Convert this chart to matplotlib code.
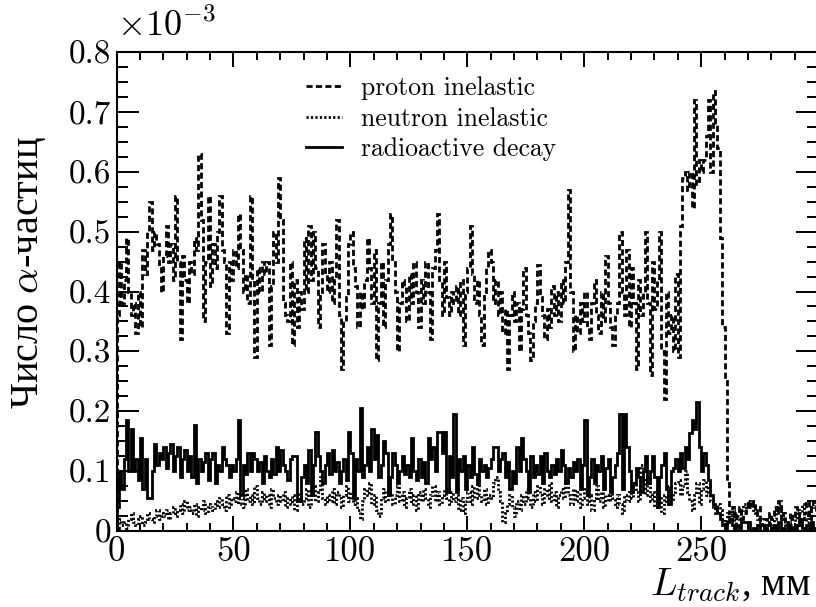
import numpy as np
import matplotlib
matplotlib.use("Agg")
import matplotlib.pyplot as plt
from matplotlib.ticker import MultipleLocator, FixedLocator, FuncFormatter

plt.rcParams['font.family'] = ['cmr10']
plt.rcParams['mathtext.fontset'] = 'cm'
plt.rcParams['axes.unicode_minus'] = False

# bin edges in mm (1 mm bins), values in units of 1e-3
edges = np.arange(0, 301)

proton = [
    0.36, 0.45, 0.38, 0.42, 0.49, 0.40, 0.36, 0.38, 0.33, 0.40,
    0.34, 0.47, 0.43, 0.50, 0.55, 0.47, 0.50, 0.48, 0.44, 0.40,
    0.46, 0.51, 0.45, 0.48, 0.42, 0.56, 0.45, 0.32, 0.46, 0.42,
    0.38, 0.45, 0.43, 0.49, 0.47, 0.63, 0.52, 0.35, 0.45, 0.56,
    0.41, 0.48, 0.44, 0.50, 0.56, 0.47, 0.45, 0.33, 0.45, 0.42,
    0.47, 0.44, 0.53, 0.47, 0.40, 0.43, 0.38, 0.56, 0.42, 0.29,
    0.44, 0.40, 0.45, 0.43, 0.45, 0.31, 0.41, 0.50, 0.45, 0.59,
    0.52, 0.38, 0.36, 0.35, 0.45, 0.31, 0.42, 0.34, 0.40, 0.37,
    0.49, 0.40, 0.51, 0.42, 0.50, 0.44, 0.34, 0.40, 0.48, 0.43,
    0.40, 0.45, 0.38, 0.42, 0.52, 0.36, 0.27, 0.35, 0.39, 0.48,
    0.50, 0.44, 0.41, 0.34, 0.40, 0.37, 0.42, 0.49, 0.44, 0.38,
    0.47, 0.285, 0.38, 0.45, 0.34, 0.42, 0.48, 0.53, 0.45, 0.40,
    0.30, 0.38, 0.42, 0.41, 0.35, 0.43, 0.38, 0.45, 0.40, 0.34,
    0.42, 0.38, 0.45, 0.40, 0.32, 0.44, 0.47, 0.53, 0.42, 0.36,
    0.45, 0.39, 0.36, 0.40, 0.38, 0.41, 0.36, 0.42, 0.31, 0.40,
    0.44, 0.51, 0.43, 0.38, 0.42, 0.36, 0.31, 0.40, 0.44, 0.47,
    0.45, 0.38, 0.42, 0.36, 0.40, 0.33, 0.37, 0.27, 0.36, 0.40,
    0.35, 0.38, 0.30, 0.37, 0.44, 0.36, 0.33, 0.285, 0.35, 0.38,
    0.445, 0.39, 0.36, 0.32, 0.37, 0.34, 0.41, 0.36, 0.40, 0.35,
    0.42, 0.38, 0.45, 0.57, 0.40, 0.30, 0.36, 0.33, 0.38, 0.35,
    0.40, 0.34, 0.32, 0.38, 0.42, 0.36, 0.33, 0.40, 0.35, 0.46,
    0.38, 0.34, 0.31, 0.36, 0.38, 0.50, 0.40, 0.36, 0.47, 0.34,
    0.44, 0.38, 0.27, 0.42, 0.36, 0.40, 0.50, 0.38, 0.26, 0.45,
    0.37, 0.42, 0.50, 0.30, 0.22, 0.40, 0.33, 0.36, 0.30, 0.43,
    0.29, 0.51, 0.59, 0.60, 0.57, 0.60, 0.54, 0.72, 0.58, 0.62,
    0.60, 0.62, 0.66, 0.72, 0.60, 0.735, 0.68, 0.64, 0.49, 0.34,
    0.25, 0.08, 0.03, 0.04, 0.02, 0.03, 0.04, 0.02, 0.03, 0.04,
    0.05, 0.04, 0.05, 0.03, 0.04, 0.02, 0.01, 0.02, 0.01, 0.03,
    0.02, 0.04, 0.03, 0.05, 0.02, 0.03, 0.01, 0.02, 0.03, 0.02,
    0.04, 0.03, 0.01, 0.02, 0.03, 0.05, 0.02, 0.04, 0.05, 0.03,
]

neutron = [
    0.005, 0.02, 0.01, 0.015, 0.005, 0.02, 0.03, 0.015, 0.01, 0.02,
    0.025, 0.01, 0.015, 0.03, 0.02, 0.015, 0.025, 0.035, 0.02, 0.03,
    0.025, 0.035, 0.02, 0.03, 0.04, 0.025, 0.035, 0.045, 0.03, 0.05,
    0.035, 0.04, 0.03, 0.045, 0.025, 0.04, 0.035, 0.05, 0.03, 0.045,
    0.04, 0.035, 0.05, 0.04, 0.055, 0.045, 0.035, 0.06, 0.04, 0.055,
    0.05, 0.065, 0.045, 0.055, 0.04, 0.07, 0.05, 0.06, 0.045, 0.075,
    0.055, 0.045, 0.065, 0.05, 0.06, 0.04, 0.07, 0.055, 0.045, 0.06,
    0.05, 0.065, 0.04, 0.055, 0.045, 0.06, 0.035, 0.05, 0.065, 0.045,
    0.055, 0.07, 0.04, 0.06, 0.075, 0.05, 0.065, 0.09, 0.055, 0.045,
    0.06, 0.05, 0.07, 0.045, 0.065, 0.055, 0.04, 0.06, 0.075, 0.05,
    0.065, 0.045, 0.055, 0.035, 0.02, 0.05, 0.07, 0.06, 0.08, 0.045,
    0.06, 0.035, 0.025, 0.055, 0.07, 0.05, 0.09, 0.065, 0.045, 0.06,
    0.075, 0.05, 0.065, 0.04, 0.055, 0.07, 0.045, 0.06, 0.035, 0.065,
    0.05, 0.07, 0.055, 0.04, 0.06, 0.075, 0.05, 0.065, 0.045, 0.06,
    0.07, 0.055, 0.045, 0.065, 0.05, 0.06, 0.035, 0.055, 0.03, 0.05,
    0.065, 0.045, 0.075, 0.055, 0.09, 0.06, 0.05, 0.07, 0.045, 0.06,
    0.055, 0.08, 0.09, 0.065, 0.05, 0.015, 0.03, 0.045, 0.06, 0.04,
    0.025, 0.05, 0.035, 0.06, 0.045, 0.07, 0.055, 0.04, 0.065, 0.05,
    0.075, 0.06, 0.045, 0.07, 0.055, 0.08, 0.05, 0.065, 0.04, 0.06,
    0.07, 0.055, 0.085, 0.06, 0.045, 0.07, 0.05, 0.065, 0.04, 0.055,
    0.07, 0.045, 0.06, 0.035, 0.055, 0.075, 0.05, 0.065, 0.04, 0.06,
    0.05, 0.07, 0.055, 0.04, 0.06, 0.045, 0.03, 0.06, 0.05, 0.07,
    0.055, 0.08, 0.065, 0.05, 0.11, 0.085, 0.06, 0.09, 0.05, 0.065,
    0.04, 0.07, 0.055, 0.03, 0.06, 0.045, 0.075, 0.05, 0.065, 0.08,
    0.085, 0.06, 0.075, 0.10, 0.065, 0.05, 0.035, 0.06, 0.08, 0.045,
    0.07, 0.085, 0.06, 0.075, 0.05, 0.04, 0.03, 0.045, 0.035, 0.02,
    0.015, 0.03, 0.02, 0.035, 0.01, 0.025, 0.015, 0.035, 0.045, 0.04,
    0.05, 0.045, 0.035, 0.03, 0.02, 0.015, 0.01, 0.005, 0.01, 0.015,
    0.005, 0.02, 0.04, 0.045, 0.03, 0.02, 0.01, 0.015, 0.005, 0.01,
    0.02, 0.035, 0.03, 0.045, 0.02, 0.015, 0.03, 0.04, 0.045, 0.05,
]

decay = [
    0.04, 0.10, 0.07, 0.12, 0.185, 0.10, 0.17, 0.10, 0.12, 0.085,
    0.155, 0.07, 0.12, 0.055, 0.055, 0.10, 0.146, 0.11, 0.13, 0.12,
    0.14, 0.105, 0.13, 0.145, 0.10, 0.125, 0.14, 0.09, 0.12, 0.135,
    0.10, 0.125, 0.09, 0.177, 0.08, 0.12, 0.10, 0.115, 0.13, 0.085,
    0.12, 0.13, 0.08, 0.11, 0.10, 0.14, 0.12, 0.11, 0.09, 0.11,
    0.10, 0.12, 0.185, 0.06, 0.11, 0.095, 0.13, 0.10, 0.13, 0.12,
    0.10, 0.115, 0.08, 0.125, 0.10, 0.09, 0.12, 0.095, 0.14, 0.10,
    0.135, 0.11, 0.10, 0.085, 0.12, 0.125, 0.125, 0.05, 0.05, 0.09,
    0.11, 0.08, 0.135, 0.06, 0.11, 0.165, 0.125, 0.10, 0.08, 0.11,
    0.13, 0.095, 0.135, 0.10, 0.115, 0.08, 0.10, 0.12, 0.085, 0.165,
    0.13, 0.055, 0.12, 0.10, 0.205, 0.09, 0.11, 0.14, 0.10, 0.17,
    0.12, 0.16, 0.09, 0.11, 0.15, 0.13, 0.06, 0.09, 0.13, 0.11,
    0.08, 0.10, 0.125, 0.095, 0.11, 0.09, 0.155, 0.10, 0.085, 0.12,
    0.09, 0.115, 0.08, 0.155, 0.12, 0.14, 0.10, 0.165, 0.165, 0.13,
    0.165, 0.065, 0.125, 0.09, 0.195, 0.065, 0.12, 0.10, 0.125, 0.07,
    0.11, 0.09, 0.14, 0.095, 0.08, 0.12, 0.10, 0.11, 0.09, 0.105,
    0.12, 0.14, 0.14, 0.10, 0.12, 0.13, 0.09, 0.115, 0.07, 0.10,
    0.08, 0.14, 0.10, 0.155, 0.12, 0.10, 0.065, 0.125, 0.09, 0.11,
    0.095, 0.125, 0.08, 0.13, 0.10, 0.09, 0.11, 0.095, 0.12, 0.10,
    0.135, 0.11, 0.08, 0.105, 0.09, 0.115, 0.10, 0.12, 0.07, 0.11,
    0.185, 0.06, 0.09, 0.12, 0.08, 0.11, 0.10, 0.125, 0.07, 0.105,
    0.12, 0.065, 0.09, 0.11, 0.13, 0.195, 0.07, 0.195, 0.14, 0.10,
    0.065, 0.08, 0.105, 0.09, 0.065, 0.10, 0.125, 0.08, 0.10, 0.125,
    0.09, 0.04, 0.09, 0.11, 0.13, 0.07, 0.045, 0.10, 0.105, 0.12,
    0.10, 0.13, 0.105, 0.14, 0.12, 0.163, 0.185, 0.17, 0.215, 0.14,
    0.10, 0.13, 0.11, 0.085, 0.06, 0.045, 0.04, 0.03, 0.02, 0.01,
    0.005, 0.015, 0.02, 0.01, 0.0, 0.01, 0.005, 0.015, 0.015, 0.015,
    0.015, 0.0, 0.005, 0.0, 0.01, 0.0, 0.0, 0.005, 0.0, 0.0,
    0.005, 0.01, 0.0, 0.015, 0.0, 0.005, 0.0, 0.01, 0.0, 0.005,
    0.0, 0.01, 0.02, 0.005, 0.0, 0.01, 0.0, 0.015, 0.005, 0.0,
]

labels = ['proton inelastic', 'neutron inelastic', 'radioactive decay']

fig = plt.figure(figsize=(8.16, 6.07), dpi=100)
ax = fig.add_axes([0.1428, 0.1252, 0.8597, 0.7891])

ax.stairs(proton, edges, color='black', lw=2, linestyle=(0, (2.2, 1.2)), label=labels[0])
ax.stairs(neutron, edges, color='black', lw=2, linestyle=(0, (0.8, 0.8)), label=labels[1])
ax.stairs(decay, edges, color='black', lw=2, linestyle='-', label=labels[2])

ax.set_xlim(0, 300)
ax.set_ylim(0, 0.8)

ax.xaxis.set_major_locator(FixedLocator([0, 50, 100, 150, 200, 250]))
ax.xaxis.set_minor_locator(MultipleLocator(10))
ax.yaxis.set_major_locator(MultipleLocator(0.1))
ax.yaxis.set_minor_locator(MultipleLocator(0.025))
ax.yaxis.set_major_formatter(FuncFormatter(lambda v, p: '0' if abs(v) < 1e-9 else '%.1f' % v))

for s in ax.spines.values():
    s.set_linewidth(1.5)
ax.tick_params(which='both', direction='in', top=True, right=True, width=1.4)
ax.tick_params(axis='x', which='major', length=11, labelsize=25, pad=4)
ax.tick_params(axis='x', which='minor', length=5.5)
ax.tick_params(axis='y', which='major', length=16, labelsize=24, pad=4)
ax.tick_params(axis='y', which='minor', length=8)

# cyrillic text needs a font that has it
ax.set_ylabel('Число $\\alpha$-частиц', fontsize=29, va='center', family='Liberation Serif')
ax.yaxis.set_label_coords(-0.125, 0.54)
ax.set_xlabel('$L_{track}$, мм', fontsize=28, ha='right', va='center', family='Liberation Serif')
ax.xaxis.set_label_coords(0.99, -0.115)

fig.text(0.143, 0.958, '$\\times10^{-3}$', fontsize=26, ha='left', va='center')

ax.legend(loc='upper left', bbox_to_anchor=(0.255, 0.97), frameon=False,
          fontsize=18.5, handlelength=1.4, handletextpad=0.75, labelspacing=0.25,
          borderaxespad=0)

fig.savefig('out.png', dpi=100)
